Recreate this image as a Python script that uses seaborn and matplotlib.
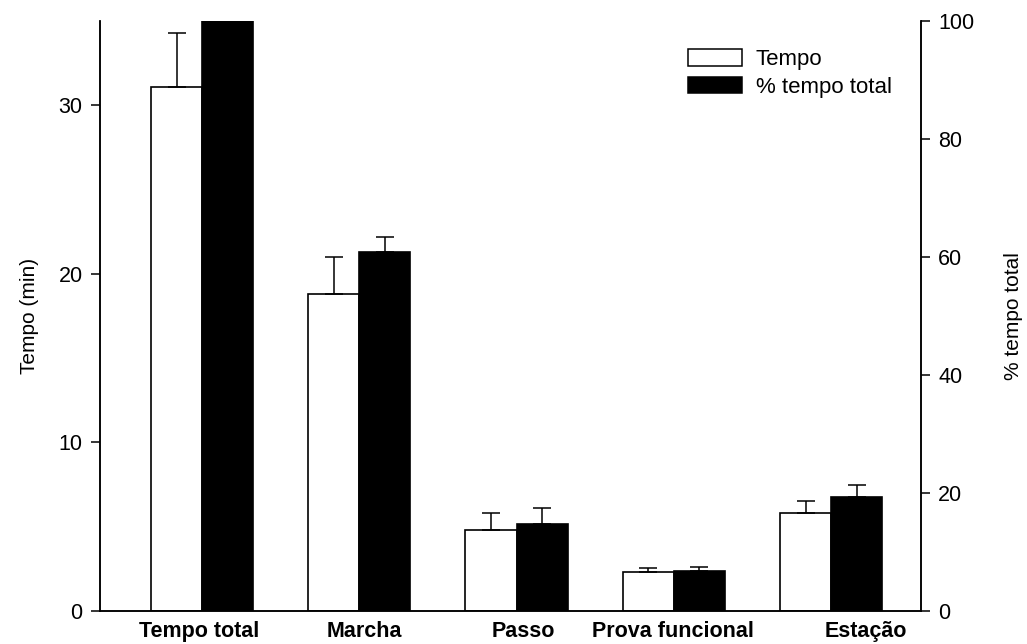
import pandas as pd
import matplotlib
matplotlib.use('Agg')
import matplotlib.pyplot as plt
import matplotlib.transforms as mtransforms
from matplotlib.patches import Patch
import seaborn as sns

# dados
categorias = ['Tempo total', 'Marcha', 'Passo', 'Prova funcional', 'Estação']
tempo = [31.1, 18.8, 4.8, 2.3, 5.8]
tempo_err = [3.2, 2.2, 1.0, 0.25, 0.7]
pct_total = [100, 60.9, 14.7, 6.7, 19.4]
pct_err = [0, 2.5, 2.7, 0.8, 2.0]
series = ['Tempo', '% tempo total']
left_ticks = [0, 10, 20, 30]
right_ticks = [0, 20, 40, 60, 80, 100]
# deslocamento horizontal dos rótulos (pontos)
label_shift = [-2, 3.5, 5, -0.5, 25]

sns.set_style('ticks')
plt.rcParams['font.family'] = ['Liberation Sans', 'DejaVu Sans']
for k in ['text.color', 'axes.labelcolor', 'xtick.color', 'ytick.color', 'axes.edgecolor']:
    plt.rcParams[k] = 'black'

df_t = pd.DataFrame({'cat': categorias, 'val': tempo, 'serie': series[0]})
df_p = pd.DataFrame({'cat': categorias, 'val': pct_total, 'serie': series[1]})
pal = {series[0]: 'white', series[1]: 'black'}

fig = plt.figure(figsize=(10.27, 6.44), dpi=100)
ax = fig.add_axes([100 / 1027, 1 - 611 / 644, 821 / 1027, 590 / 644])
ax2 = ax.twinx()

sns.barplot(data=df_t, x='cat', y='val', hue='serie', hue_order=series, order=categorias,
            palette=pal, edgecolor='black', linewidth=1.2, width=0.65, saturation=1,
            dodge=True, legend=False, ax=ax)
sns.barplot(data=df_p, x='cat', y='val', hue='serie', hue_order=series, order=categorias,
            palette=pal, edgecolor='black', linewidth=1.2, width=0.65, saturation=1,
            dodge=True, legend=False, ax=ax2)

# barras de erro só para cima
for a, vals, errs in [(ax, tempo, tempo_err), (ax2, pct_total, pct_err)]:
    xs = [p.get_x() + p.get_width() / 2 for p in a.patches]
    for x, v, e in zip(xs, vals, errs):
        if e > 0:
            a.errorbar(x, v, yerr=[[0], [e]], fmt='none', ecolor='black',
                       elinewidth=1.1, capsize=6.5, capthick=1.1, zorder=5)

ax.set_xlim(-0.649, 4.572)
ax.set_ylim(0, 35)
ax2.set_ylim(0, 100)
ax.set_yticks(left_ticks)
ax2.set_yticks(right_ticks)
ax.set_xlabel('')
ax2.set_xlabel('')
ax.set_ylabel('Tempo (min)', fontsize=15, labelpad=14)
ax2.set_ylabel('% tempo total', fontsize=15, labelpad=21)

for a in (ax, ax2):
    a.spines['top'].set_visible(False)
    for s in a.spines.values():
        s.set_linewidth(1.1)
    a.tick_params(axis='y', direction='out', length=6.5, width=1.1, labelsize=15.5, pad=6)
ax.tick_params(axis='x', length=0, labelsize=15.5, pad=7)
ax2.tick_params(axis='x', length=0)
ax.set_xticks(range(len(categorias)))
ax.set_xticklabels(categorias, fontweight='bold')
for lab, dx in zip(ax.get_xticklabels(), label_shift):
    lab.set_transform(lab.get_transform() + mtransforms.ScaledTranslation(dx / 72, 0, fig.dpi_scale_trans))

handles = [Patch(facecolor='white', edgecolor='black', linewidth=1.1),
           Patch(facecolor='black', edgecolor='black', linewidth=1.1)]
fig.legend(handles, series, loc='upper left', bbox_to_anchor=(688 / 1027, 1 - 49 / 644),
           bbox_transform=fig.transFigure, frameon=False, fontsize=16, borderpad=0,
           borderaxespad=0, handlelength=2.45, handleheight=0.77, handletextpad=0.6,
           labelspacing=0.3)

fig.savefig('out.png', dpi=100)
